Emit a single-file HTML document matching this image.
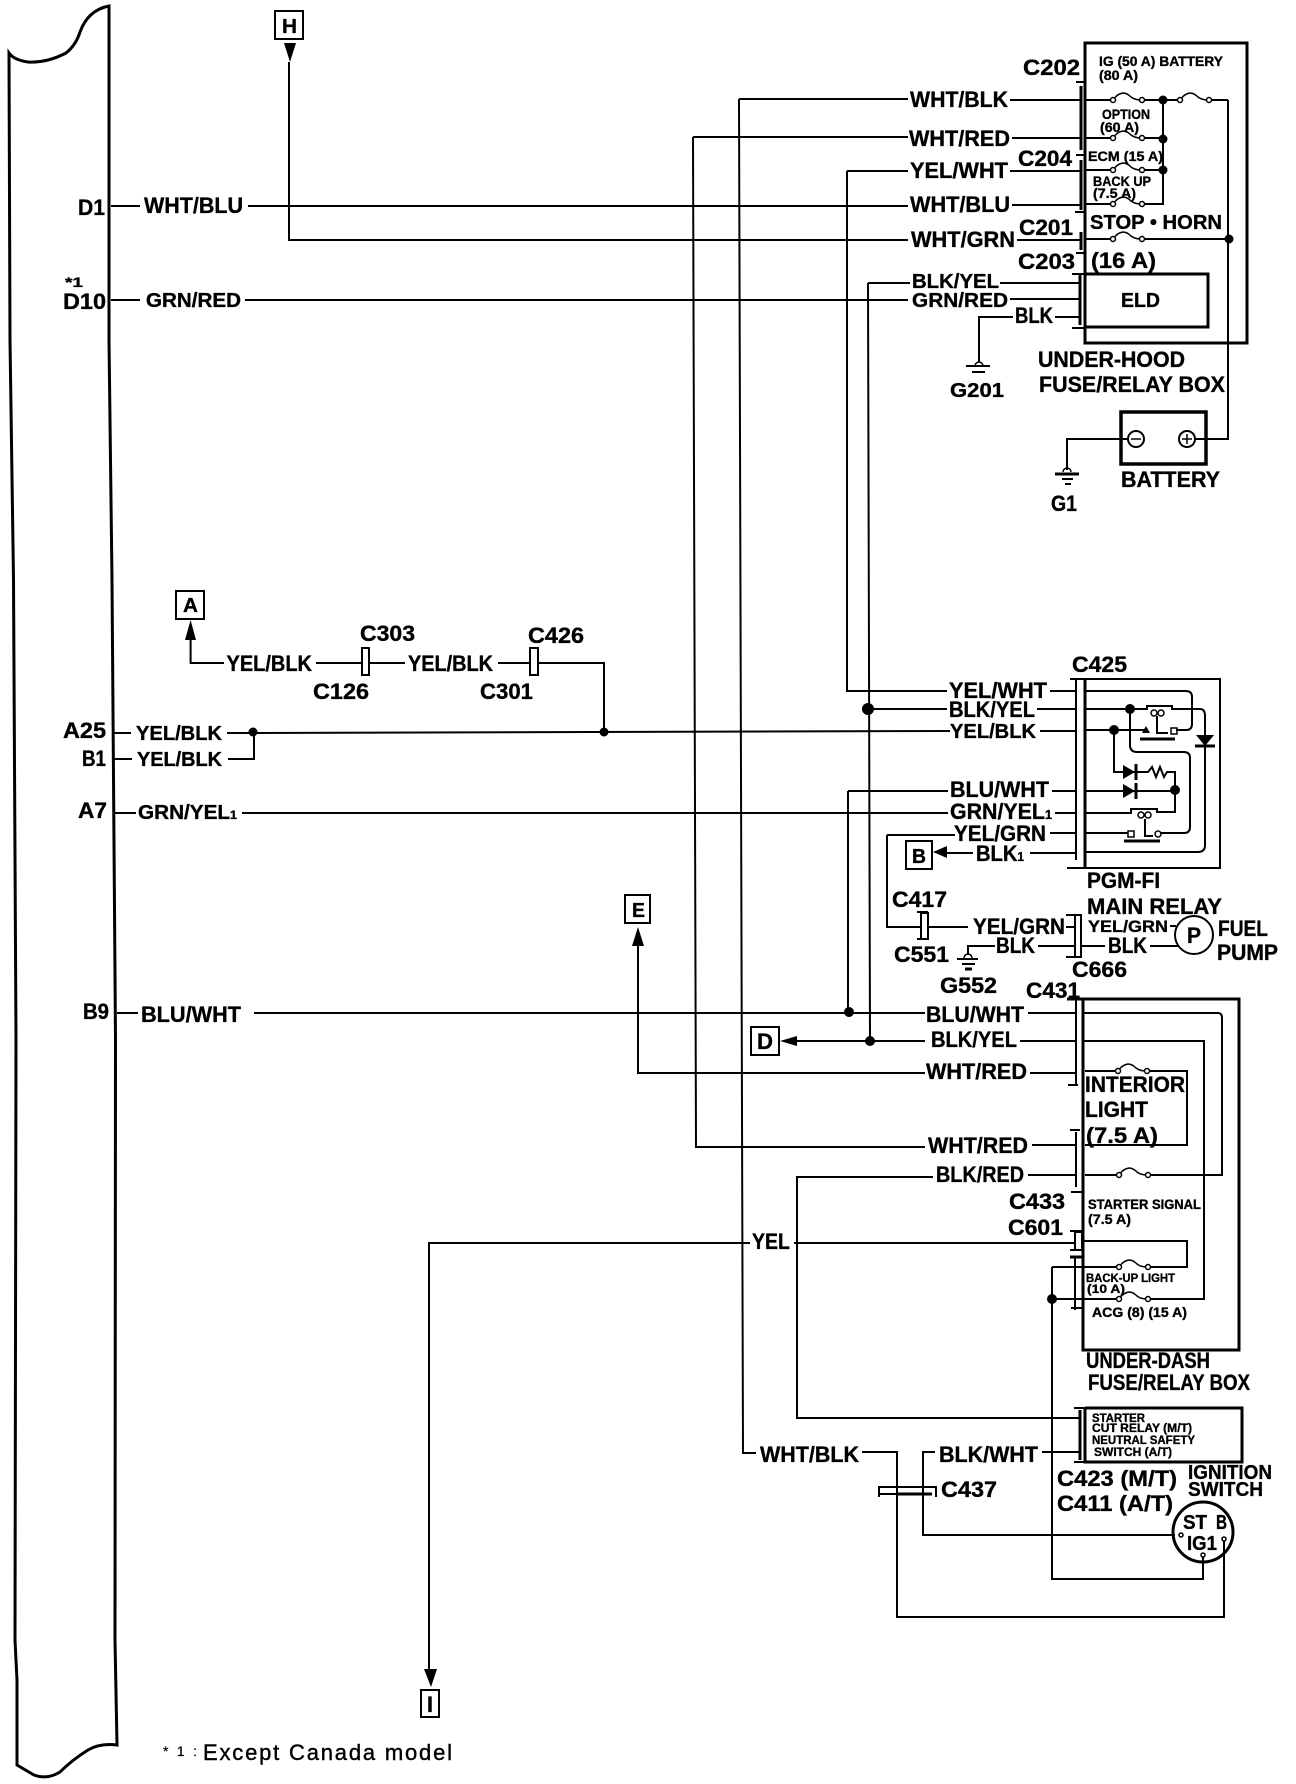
<!DOCTYPE html>
<html>
<head>
<meta charset="utf-8">
<title>Wiring diagram</title>
<style>
html,body{margin:0;padding:0;background:#fff}
svg{display:block}
text{font-family:"Liberation Sans",sans-serif;font-weight:700;fill:#000;stroke:#000;stroke-width:.35}
.a{font-size:22px}.b{font-size:20px}.c{font-size:14px}.d{font-size:12px}.e{font-size:17px}
.w{fill:none;stroke:#000;stroke-width:2}
.t{fill:none;stroke:#000;stroke-width:3}
.n{fill:none;stroke:#000;stroke-width:1.5}
</style>
</head>
<body>
<svg width="1296" height="1784" viewBox="0 0 1296 1784" xmlns="http://www.w3.org/2000/svg">
<defs>
<g id="f"><path class="n" d="M1,-1 Q4,-6 10,-7 Q14,-7 18,-3 Q22,0 28,0"/><circle cx="0" cy="0" r="2.5" fill="#fff" stroke="#000" stroke-width="1.5"/><circle cx="29" cy="0" r="2.5" fill="#fff" stroke="#000" stroke-width="1.5"/></g>
</defs>
<rect width="1296" height="1784" fill="#fff"/>

<!-- left panel -->
<path class="t" d="M9,53 Q14,60 28,62 Q47,63 66,53 Q76,45 80,32 Q88,10 109,6 L109,340 L112,580 L115.5,1040 L115,1640 L117,1745 Q100,1743 88,1750 Q72,1760 60,1772 Q47,1780 34,1775 L17,1765 L17,1680 L15,1640 L16,1040 L13.5,580 L10,340 Z"/>

<!-- main horizontal wires -->
<g class="w">
<path class="w" d="M111,206H140M248,206H908"/>
<path class="w" d="M111,300H140M245,300H908"/>
<path class="w" d="M112,733H131M227,733H253L950,731M1040,731H1075"/>
<path class="w" d="M112,759H132M228,759H254V732"/>
<path class="w" d="M115,813H136M242,813H948M1055,813H1075"/>
<path class="w" d="M117,1013H138M254,1013H925M1028,1013H1075"/>
<path class="w" d="M289,62V240H908"/>
<path class="w" d="M739,99H908M739,99L743,1453H756"/>
<path class="w" d="M693,137H908M693,137L696,1147H925"/>
<path class="w" d="M847,171H908M847,171V691H947"/>
<path class="w" d="M868,283H910M868,283L870,1041"/>
<path class="w" d="M868,709H947"/>
<path class="w" d="M848,791H948M848,791V1013"/>
<path class="w" d="M791,1041H925M1020,1041H1075"/>
<path class="w" d="M638,946V1073H925M1030,1073H1075"/>
<path class="w" d="M1032,1145H1077"/>
<path class="w" d="M933,1177H797V1418H1080"/>
<path class="w" d="M1028,1175H1075"/>
<path class="w" d="M429,1670V1243H750M794,1243H1075"/>
<path class="w" d="M862,1452H897V1617H1224V1541"/>
<path class="w" d="M935,1452H923V1535H1175"/>
<path class="w" d="M1042,1452H1080"/>
<path class="w" d="M1052,1267V1579H1203V1557"/>
<path class="w" d="M190.6,640V663H224M316,663H361M369,663H405M498,663H529M539,663H604V732"/>
<path class="w" d="M887,835H955M887,835V927H920M928,927H968M1066,927H1075"/>
<path class="w" d="M1038,946H1075M995,946H968V955"/>
<path class="w" d="M1082,946H1105M1150,946H1178M1170,926H1176"/>
<path class="w" d="M947,853H973"/>
<path class="w" d="M1030,853H1075M1050,833H1075M1037,709H1075M1050,691H1075M1052,791H1075"/>
<path class="w" d="M1010,100H1080M1012,138H1080M1010,171H1080M1012,205H1080M1017,240H1080M1000,283H1080M1010,299H1080M1055,317H1080"/>
<path class="w" d="M1013,317H979V362"/>
<path class="w" d="M1136,439H1067V470M1187,439H1228V100"/>
</g>

<!-- under-hood box -->
<rect class="t" x="1085" y="43" width="162" height="300"/>
<rect class="t" x="1085" y="274" width="123" height="53"/>
<path class="t" d="M1081,86V150M1081,160V210M1081,232V250M1080,275V325"/>
<path class="w" d="M1076,82H1086M1076,155H1086M1075,212H1086M1076,253H1084M1072,274H1086M1072,328H1086"/>
<path class="w" d="M1086,100H1113M1142,100H1179M1210,100H1228M1086,138H1113M1142,138H1163M1086,170H1113M1142,170H1163M1086,204H1113M1142,204H1163V100M1086,239H1113M1142,239H1228"/>
<use href="#f" x="1113" y="100"/><use href="#f" x="1180" y="100"/><use href="#f" x="1113" y="138"/><use href="#f" x="1113" y="170"/><use href="#f" x="1113" y="204"/><use href="#f" x="1113" y="239"/>
<circle cx="1163" cy="100" r="4.5"/><circle cx="1163" cy="139" r="4.5"/><circle cx="1163" cy="170" r="4.5"/><circle cx="1229" cy="239" r="4.5"/>

<!-- grounds -->
<path class="w" d="M966,366H990M972,372H985"/><path class="n" d="M975,366a4,4 0 0 1 8,0"/>
<path class="t" d="M1055,474H1079"/><path class="w" d="M1062,479H1073M1065,484H1071"/><path class="n" d="M1063,472a4,4 0 0 1 8,0"/>
<path class="w" d="M957,959H978M962,964H975"/><path class="t" d="M965,969H972"/><path class="n" d="M964,958a4,4 0 0 1 8,0"/>

<!-- battery -->
<rect x="1121" y="412" width="85" height="52" fill="#fff" stroke="#000" stroke-width="3.5"/>
<path class="w" d="M1120,439H1128M1195,439H1207"/>
<circle class="w" cx="1136" cy="439" r="8"/><circle class="w" cx="1187" cy="439" r="8"/>
<path class="n" d="M1131,439H1141M1182,439H1192M1187,434V444"/>

<!-- C425 relay -->
<path class="w" d="M1070,679H1220V868H1067"/>
<path class="w" d="M1076,679V860"/>
<path class="t" d="M1085,679V868"/>
<path class="w" d="M1085,691H1186Q1192,691 1192,697V724Q1192,730 1186,730H1176"/>
<path class="w" d="M1085,709H1147V706H1172V709H1200Q1205,709 1205,716V845Q1205,852 1198,852H1085"/>
<path class="w" d="M1085,730H1146M1130,709V745Q1130,752 1137,752H1184Q1190,752 1190,758V827Q1190,833 1184,833H1161"/>
<path class="w" d="M1114,730V772H1148M1138,772H1148L1152,767L1156,777L1160,767L1164,777L1167,772H1175V812H1157V809H1131V813H1085"/>
<path class="w" d="M1085,791H1175"/>
<path class="w" d="M1085,833H1128"/>
<circle cx="1130" cy="709" r="5"/><circle cx="1114" cy="730" r="5"/><circle cx="1175" cy="790" r="5"/>
<circle class="n" cx="1154" cy="713" r="3"/><circle class="n" cx="1161" cy="713" r="3"/>
<circle class="n" cx="1141" cy="815" r="3"/><circle class="n" cx="1148" cy="815" r="3"/>
<path class="w" d="M1157,716V733H1168M1145,819V836H1153"/>
<rect class="n" x="1171" y="728" width="6" height="6" fill="#fff"/>
<path d="M1142,733L1146,726L1150,733Z"/>
<path class="t" d="M1140,739H1175M1124,841H1160"/>
<rect class="n" x="1128" y="831" width="6" height="6" fill="#fff"/><circle class="n" cx="1158" cy="834" r="3" fill="#fff"/>
<path d="M1123,765L1135,772L1123,779Z M1123,784L1135,791L1123,798Z"/>
<path class="t" d="M1136,764V780M1136,783V799"/>
<path d="M1196,735H1214L1205,746Z"/><path class="t" d="M1195,746H1215"/>

<!-- small connectors -->
<rect class="w" x="362" y="648" width="7" height="27" fill="#fff"/>
<rect class="w" x="530" y="648" width="8" height="27" fill="#fff"/>
<rect class="w" x="921" y="913" width="7" height="26" fill="#fff"/>
<path class="w" d="M917,912H928M917,939H928"/>
<path class="w" d="M1066,915H1081V957H1066"/><path class="w" d="M1075,915V957"/>
<circle class="w" cx="1194" cy="935" r="19"/>

<!-- boxes with letters -->
<rect class="w" x="275" y="11" width="28" height="28"/>
<rect class="w" x="176" y="591" width="28" height="28"/>
<rect class="w" x="906" y="841" width="26" height="28"/>
<rect class="w" x="625" y="895" width="25" height="28"/>
<rect class="w" x="751" y="1027" width="28" height="28"/>
<rect class="w" x="421" y="1690" width="18" height="27"/>
<path d="M284,43H296L290,62Z"/><path d="M185,640H196L190.6,620Z"/><path d="M933,852L947,846V858Z"/><path d="M632,946H644L638,927Z"/><path d="M780,1041L797,1036V1046Z"/><path d="M424,1669H437L431,1687Z"/>
<circle cx="253" cy="732" r="4.5"/><circle cx="604" cy="732" r="4.5"/><circle cx="868" cy="709" r="6"/><circle cx="849" cy="1012" r="5"/><circle cx="870" cy="1041" r="5"/><circle cx="1052" cy="1299" r="5"/>

<!-- under-dash box -->
<path class="t" d="M1067,999H1239V1350H1083V999"/>
<path class="w" d="M1076,999V1085M1068,1085H1078"/>
<path class="w" d="M1070,1130H1080M1076,1132V1187M1071,1192H1084"/>
<rect class="w" x="1075" y="1232" width="7" height="18"/>
<path class="w" d="M1070,1231H1082M1070,1250H1082"/>
<path class="t" d="M1070,1257H1084"/><path class="w" d="M1075,1257V1310M1071,1308H1082"/>
<path class="w" d="M1083,1013H1218Q1222,1013 1222,1018V1175H1150M1118,1175H1085"/>
<path class="w" d="M1083,1041H1204V1299H1150M1120,1299H1075"/>
<path class="w" d="M1085,1071H1118M1149,1071H1187V1145H1085"/>
<path class="w" d="M1082,1241H1187V1267H1150M1118,1267H1052M1075,1299H1052"/>
<use href="#f" x="1118" y="1071"/><use href="#f" x="1119" y="1175"/><use href="#f" x="1119" y="1267"/><use href="#f" x="1119" y="1299"/>

<!-- starter box -->
<path class="t" d="M1085,1408H1242V1462H1085V1408"/>
<path class="w" d="M1074,1408H1085M1074,1462H1085"/><path class="t" d="M1080,1410V1460"/>

<!-- C437 -->
<path class="w" d="M879,1497V1487H936V1497M880,1494H897"/><path class="t" d="M897,1494H932"/>

<!-- ignition switch -->
<circle class="t" cx="1203" cy="1532" r="30" fill="none"/>
<circle class="n" cx="1181" cy="1535" r="2" fill="#fff"/><circle class="n" cx="1224" cy="1539" r="2" fill="#fff"/><circle class="n" cx="1203" cy="1555" r="2" fill="#fff"/>

<!-- labels -->
<g>
<text class="c" x="1099" y="66" textLength="124" lengthAdjust="spacingAndGlyphs">IG (50 A) BATTERY</text>
<text class="c" x="1099" y="80" textLength="39" lengthAdjust="spacingAndGlyphs">(80 A)</text>
<text class="c" x="1102" y="119" textLength="48" lengthAdjust="spacingAndGlyphs">OPTION</text>
<text class="c" x="1100" y="132" textLength="39" lengthAdjust="spacingAndGlyphs">(60 A)</text>
<text class="c" x="1088" y="161" textLength="75" lengthAdjust="spacingAndGlyphs">ECM (15 A)</text>
<text class="c" x="1093" y="186" textLength="58" lengthAdjust="spacingAndGlyphs">BACK UP</text>
<text class="c" x="1093" y="198" textLength="43" lengthAdjust="spacingAndGlyphs">(7.5 A)</text>
<text class="b" x="1090" y="229" textLength="132" lengthAdjust="spacingAndGlyphs">STOP • HORN</text>
<text class="a" x="1091" y="268" textLength="65" lengthAdjust="spacingAndGlyphs">(16 A)</text>
<text class="b" x="1121" y="307" textLength="39" lengthAdjust="spacingAndGlyphs">ELD</text>
<text class="a" x="1023" y="75" textLength="57" lengthAdjust="spacingAndGlyphs">C202</text>
<text class="a" x="1018" y="166" textLength="54" lengthAdjust="spacingAndGlyphs">C204</text>
<text class="a" x="1019" y="235" textLength="54" lengthAdjust="spacingAndGlyphs">C201</text>
<text class="a" x="1018" y="269" textLength="57" lengthAdjust="spacingAndGlyphs">C203</text>
<text class="a" x="910" y="107" textLength="98" lengthAdjust="spacingAndGlyphs">WHT/BLK</text>
<text class="a" x="909" y="146" textLength="101" lengthAdjust="spacingAndGlyphs">WHT/RED</text>
<text class="a" x="910" y="178" textLength="98" lengthAdjust="spacingAndGlyphs">YEL/WHT</text>
<text class="a" x="910" y="212" textLength="100" lengthAdjust="spacingAndGlyphs">WHT/BLU</text>
<text class="a" x="911" y="247" textLength="104" lengthAdjust="spacingAndGlyphs">WHT/GRN</text>
<text class="b" x="912" y="288" textLength="87" lengthAdjust="spacingAndGlyphs">BLK/YEL</text>
<text class="b" x="912" y="307" textLength="96" lengthAdjust="spacingAndGlyphs">GRN/RED</text>
<text class="a" x="1015" y="323" textLength="38" lengthAdjust="spacingAndGlyphs">BLK</text>
<text class="b" x="950" y="397" textLength="54" lengthAdjust="spacingAndGlyphs">G201</text>
<text class="a" x="1038" y="367" textLength="147" lengthAdjust="spacingAndGlyphs">UNDER-HOOD</text>
<text class="a" x="1039" y="392" textLength="186" lengthAdjust="spacingAndGlyphs">FUSE/RELAY BOX</text>
<text class="a" x="1121" y="487" textLength="99" lengthAdjust="spacingAndGlyphs">BATTERY</text>
<text class="a" x="1051" y="511" textLength="26" lengthAdjust="spacingAndGlyphs">G1</text>

<text class="a" x="78" y="215" textLength="27" lengthAdjust="spacingAndGlyphs">D1</text>
<text class="a" x="144" y="213" textLength="99" lengthAdjust="spacingAndGlyphs">WHT/BLU</text>
<text class="c" x="65" y="287" textLength="18" lengthAdjust="spacingAndGlyphs">*1</text>
<text class="a" x="63" y="309" textLength="43" lengthAdjust="spacingAndGlyphs">D10</text>
<text class="b" x="146" y="307" textLength="95" lengthAdjust="spacingAndGlyphs">GRN/RED</text>
<text class="b" x="282" y="33" textLength="15" lengthAdjust="spacingAndGlyphs">H</text>
<text class="b" x="183" y="612" textLength="15" lengthAdjust="spacingAndGlyphs">A</text>

<text class="a" x="226.5" y="671" textLength="85.5" lengthAdjust="spacingAndGlyphs">YEL/BLK</text>
<text class="a" x="408" y="671" textLength="85" lengthAdjust="spacingAndGlyphs">YEL/BLK</text>
<text class="a" x="360" y="641" textLength="55" lengthAdjust="spacingAndGlyphs">C303</text>
<text class="a" x="528" y="643" textLength="56" lengthAdjust="spacingAndGlyphs">C426</text>
<text class="a" x="313" y="699" textLength="56" lengthAdjust="spacingAndGlyphs">C126</text>
<text class="a" x="480" y="699" textLength="53" lengthAdjust="spacingAndGlyphs">C301</text>
<text class="a" x="63" y="738" textLength="43" lengthAdjust="spacingAndGlyphs">A25</text>
<text class="b" x="136" y="740" textLength="86" lengthAdjust="spacingAndGlyphs">YEL/BLK</text>
<text class="a" x="82" y="766" textLength="24" lengthAdjust="spacingAndGlyphs">B1</text>
<text class="b" x="137" y="766" textLength="85" lengthAdjust="spacingAndGlyphs">YEL/BLK</text>
<text class="a" x="78" y="818" textLength="29" lengthAdjust="spacingAndGlyphs">A7</text>
<text class="b" x="138" y="819" textLength="99" lengthAdjust="spacingAndGlyphs">GRN/YEL<tspan font-size="12">1</tspan></text>
<text class="a" x="83" y="1019" textLength="26" lengthAdjust="spacingAndGlyphs">B9</text>
<text class="a" x="141" y="1022" textLength="100" lengthAdjust="spacingAndGlyphs">BLU/WHT</text>

<text class="a" x="1072" y="672" textLength="55" lengthAdjust="spacingAndGlyphs">C425</text>
<text class="a" x="949" y="698" textLength="98" lengthAdjust="spacingAndGlyphs">YEL/WHT</text>
<text class="a" x="949" y="717" textLength="86" lengthAdjust="spacingAndGlyphs">BLK/YEL</text>
<text class="b" x="950" y="738" textLength="86" lengthAdjust="spacingAndGlyphs">YEL/BLK</text>
<text class="a" x="950" y="797" textLength="99" lengthAdjust="spacingAndGlyphs">BLU/WHT</text>
<text class="a" x="950" y="819" textLength="102" lengthAdjust="spacingAndGlyphs">GRN/YEL<tspan font-size="13">1</tspan></text>
<text class="a" x="954" y="841" textLength="92" lengthAdjust="spacingAndGlyphs">YEL/GRN</text>
<text class="a" x="976" y="861" textLength="48" lengthAdjust="spacingAndGlyphs">BLK<tspan font-size="13">1</tspan></text>
<text class="b" x="912" y="863" textLength="14" lengthAdjust="spacingAndGlyphs">B</text>
<text class="a" x="1087" y="888" textLength="73" lengthAdjust="spacingAndGlyphs">PGM-FI</text>
<text class="a" x="1087" y="914" textLength="135" lengthAdjust="spacingAndGlyphs">MAIN RELAY</text>
<text class="a" x="892" y="907" textLength="55" lengthAdjust="spacingAndGlyphs">C417</text>
<text class="a" x="894" y="962" textLength="55" lengthAdjust="spacingAndGlyphs">C551</text>
<text class="a" x="973" y="934" textLength="92" lengthAdjust="spacingAndGlyphs">YEL/GRN</text>
<text class="e" x="1088" y="932" textLength="80" lengthAdjust="spacingAndGlyphs">YEL/GRN</text>
<text class="a" x="996" y="953" textLength="39" lengthAdjust="spacingAndGlyphs">BLK</text>
<text class="a" x="1108" y="953" textLength="39" lengthAdjust="spacingAndGlyphs">BLK</text>
<text class="a" x="1187" y="943" textLength="14" lengthAdjust="spacingAndGlyphs">P</text>
<text class="a" x="1218" y="936" textLength="50" lengthAdjust="spacingAndGlyphs">FUEL</text>
<text class="a" x="1217" y="960" textLength="61" lengthAdjust="spacingAndGlyphs">PUMP</text>
<text class="a" x="1072" y="977" textLength="55" lengthAdjust="spacingAndGlyphs">C666</text>
<text class="a" x="940" y="993" textLength="57" lengthAdjust="spacingAndGlyphs">G552</text>
<text class="a" x="1026" y="998" textLength="54" lengthAdjust="spacingAndGlyphs">C431</text>
<text class="b" x="632" y="917" textLength="13" lengthAdjust="spacingAndGlyphs">E</text>
<text class="a" x="757" y="1049" textLength="16" lengthAdjust="spacingAndGlyphs">D</text>
<text class="a" x="427" y="1712" textLength="6" lengthAdjust="spacingAndGlyphs">I</text>

<text class="a" x="926" y="1022" textLength="98" lengthAdjust="spacingAndGlyphs">BLU/WHT</text>
<text class="a" x="931" y="1047" textLength="86" lengthAdjust="spacingAndGlyphs">BLK/YEL</text>
<text class="a" x="926" y="1079" textLength="101" lengthAdjust="spacingAndGlyphs">WHT/RED</text>
<text class="a" x="928" y="1153" textLength="100" lengthAdjust="spacingAndGlyphs">WHT/RED</text>
<text class="a" x="936" y="1182" textLength="88" lengthAdjust="spacingAndGlyphs">BLK/RED</text>
<text class="a" x="1009" y="1209" textLength="56" lengthAdjust="spacingAndGlyphs">C433</text>
<text class="a" x="1008" y="1235" textLength="55" lengthAdjust="spacingAndGlyphs">C601</text>
<text class="a" x="752" y="1249" textLength="38" lengthAdjust="spacingAndGlyphs">YEL</text>
<text class="a" x="1085" y="1092" textLength="100" lengthAdjust="spacingAndGlyphs">INTERIOR</text>
<text class="a" x="1085" y="1117" textLength="63" lengthAdjust="spacingAndGlyphs">LIGHT</text>
<text class="a" x="1086" y="1143" textLength="72" lengthAdjust="spacingAndGlyphs">(7.5 A)</text>
<text class="c" x="1088" y="1209" textLength="113" lengthAdjust="spacingAndGlyphs">STARTER SIGNAL</text>
<text class="c" x="1088" y="1224" textLength="43" lengthAdjust="spacingAndGlyphs">(7.5 A)</text>
<text class="d" x="1086" y="1282" textLength="89" lengthAdjust="spacingAndGlyphs">BACK-UP LIGHT</text>
<text class="d" x="1087" y="1293" textLength="38" lengthAdjust="spacingAndGlyphs">(10 A)</text>
<text class="c" x="1092" y="1317" textLength="95" lengthAdjust="spacingAndGlyphs">ACG (8) (15 A)</text>
<text class="a" x="1086" y="1368" textLength="124" lengthAdjust="spacingAndGlyphs">UNDER-DASH</text>
<text class="a" x="1088" y="1390" textLength="162" lengthAdjust="spacingAndGlyphs">FUSE/RELAY BOX</text>

<text class="d" x="1092" y="1422" textLength="53" lengthAdjust="spacingAndGlyphs">STARTER</text>
<text class="d" x="1092" y="1432" textLength="100" lengthAdjust="spacingAndGlyphs">CUT RELAY (M/T)</text>
<text class="d" x="1092" y="1444" textLength="103" lengthAdjust="spacingAndGlyphs">NEUTRAL SAFETY</text>
<text class="d" x="1094" y="1456" textLength="78" lengthAdjust="spacingAndGlyphs">SWITCH (A/T)</text>
<text class="a" x="760" y="1462" textLength="99" lengthAdjust="spacingAndGlyphs">WHT/BLK</text>
<text class="a" x="939" y="1462" textLength="99" lengthAdjust="spacingAndGlyphs">BLK/WHT</text>
<text class="a" x="941" y="1497" textLength="56" lengthAdjust="spacingAndGlyphs">C437</text>
<text class="a" x="1057" y="1486" textLength="120" lengthAdjust="spacingAndGlyphs">C423 (M/T)</text>
<text class="a" x="1057" y="1511" textLength="116" lengthAdjust="spacingAndGlyphs">C411 (A/T)</text>
<text class="b" x="1188" y="1479" textLength="84" lengthAdjust="spacingAndGlyphs">IGNITION</text>
<text class="b" x="1188" y="1496" textLength="75" lengthAdjust="spacingAndGlyphs">SWITCH</text>
<text class="b" x="1183" y="1529" textLength="24" lengthAdjust="spacingAndGlyphs">ST</text>
<text class="b" x="1216" y="1529" textLength="11" lengthAdjust="spacingAndGlyphs">B</text>
<text class="b" x="1187" y="1550" textLength="30" lengthAdjust="spacingAndGlyphs">IG1</text>

<text class="c" x="163" y="1756" textLength="34" lengthAdjust="spacing" style="font-weight:400;stroke-width:.2">*1:</text>
<text class="a" x="203" y="1760" textLength="249" lengthAdjust="spacing" style="font-weight:400;stroke-width:.4">Except Canada model</text>
</g>
</svg>
</body>
</html>
